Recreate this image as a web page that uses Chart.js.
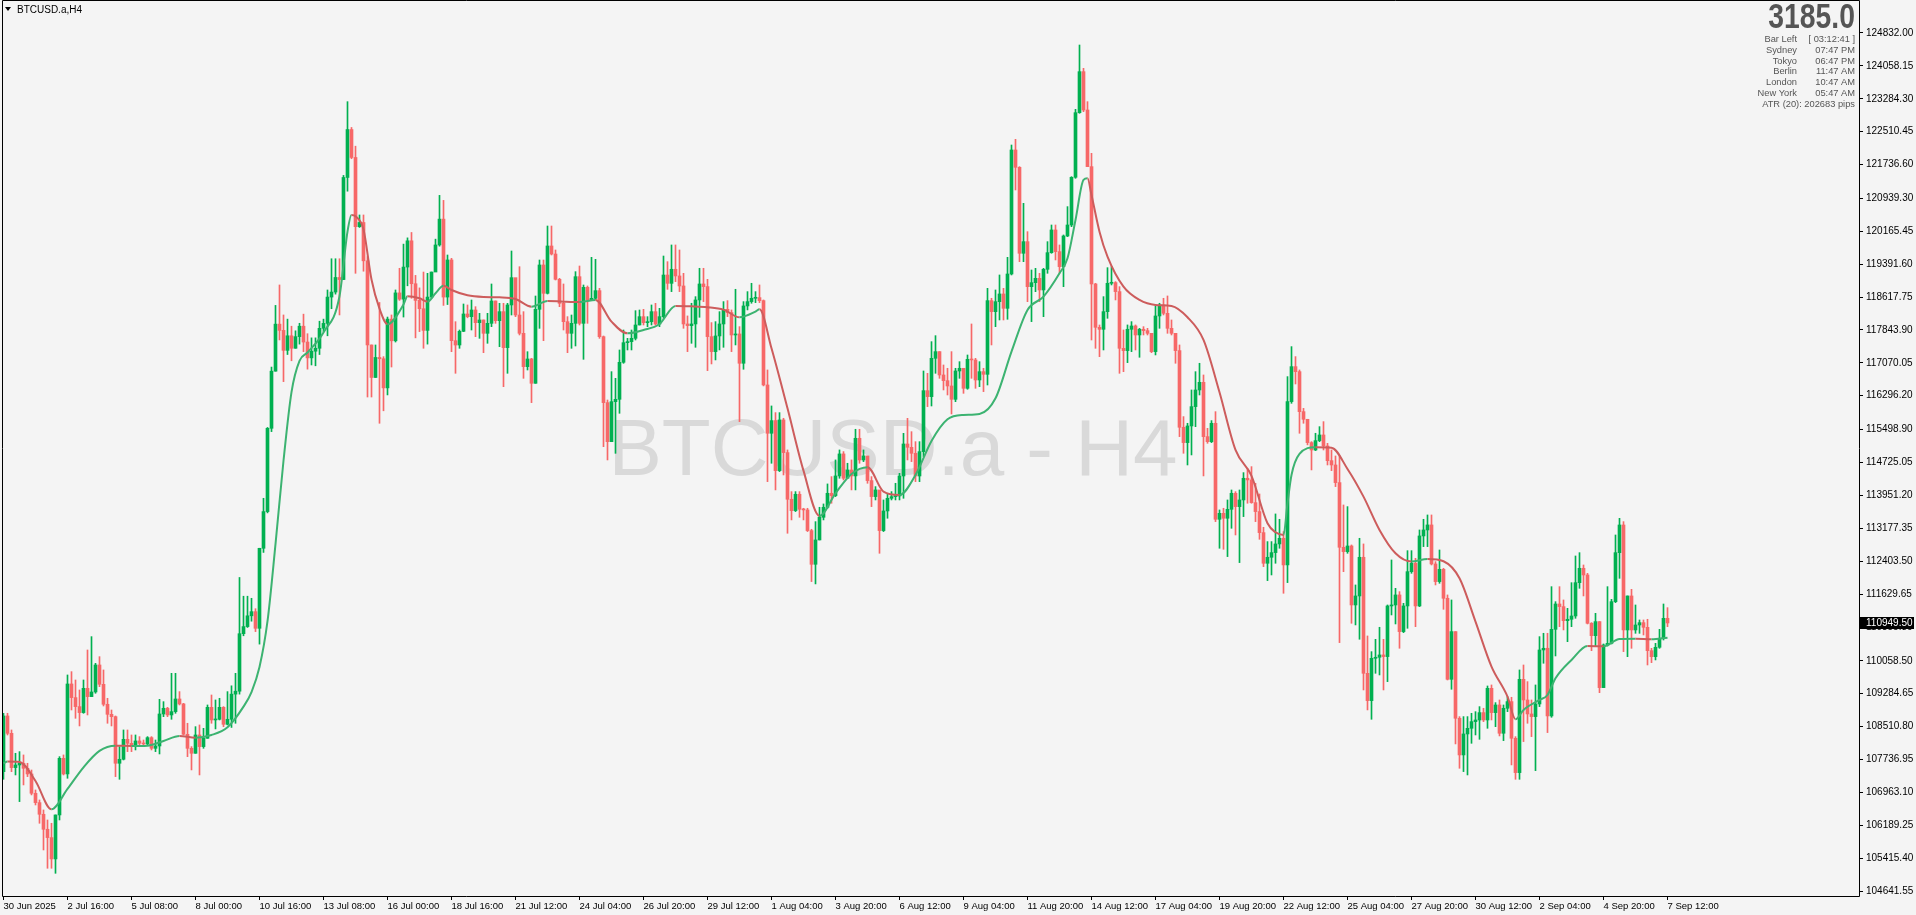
<!DOCTYPE html>
<html>
<head>
<meta charset="utf-8">
<script src="https://cdn.jsdelivr.net/npm/chart.js@4.4.1/dist/chart.umd.min.js"></script>
<style>
  html, body { margin: 0; padding: 0; background: #f3f3f3; overflow: hidden; }
  #wrap { position: relative; width: 1916px; height: 915px; }
</style>
</head>
<body>
<div id="wrap"><canvas id="priceChart"></canvas></div>
<script>
// BTCUSD.a H4 candles, 30 Jun 2025 -> 7 Sep 2025 (417 bars, open = previous close)
const firstOpen = 107450;

const closes = [
  108761,108353,107546,107608,107648,107530,107397,106942,106722,106448,106095,105899,105397,106432,107765,107397,
  109514,109193,108981,108840,109412,109216,109326,109961,109506,109036,108800,108745,107648,107742,108212,108118,
  108063,108173,108118,108102,108251,108000,108055,108808,108942,108785,108863,109161,109044,108330,108000,107883,
  108314,108040,108236,108965,108667,108683,108965,108565,108683,109275,109344,110697,110864,111118,111216,110824,
  112707,113570,115530,116874,117981,117834,117364,117707,117413,117687,117932,117560,117187,117344,117413,117883,
  117999,118618,118736,119079,119030,121432,122560,121903,120275,120373,119471,117491,116726,117197,117167,116481,
  118099,117589,118716,118569,119324,119942,118932,118540,118344,117834,118618,119207,119844,120452,118618,119491,
  117592,117490,117812,118220,118157,118314,118016,118079,117765,118000,118526,118063,118275,117428,118432,119075,
  118196,117765,116981,117161,116589,118330,119373,118706,119820,119631,119036,118471,118039,117765,118000,119098,
  118000,118847,118549,118588,118769,117686,116134,115216,116157,116212,117083,117545,117569,117647,117961,118157,
  118016,118039,118275,117984,118157,119137,118941,119272,119115,118879,117985,117946,117985,118550,118926,118864,
  117687,117334,117703,117985,118330,118252,117726,117750,117060,118409,118511,118589,118605,118534,116550,115413,
  115711,114534,115727,114958,113860,113593,113978,113625,113609,113123,112330,112903,113436,113672,114001,113946,
  114409,114927,114354,114550,114409,115295,114785,114880,114299,113923,114080,113123,113585,113883,113922,113938,
  114408,115161,115083,114942,114408,114981,116416,116275,117177,117334,116785,116651,116526,116212,116879,116942,
  116471,117153,117138,116667,116863,116800,118534,118275,118510,118691,118353,119161,122079,121671,119648,119922,
  118863,118957,119059,118785,119271,119663,120197,119687,119334,120055,120314,121436,122957,123922,123020,121687,
  118926,117906,117859,118275,118942,118958,118746,117412,117358,117860,117938,117726,117860,117828,117765,117334,
  118173,118432,118236,117883,117765,117358,115554,115193,115585,116040,116432,116612,115334,115216,115648,113389,
  113530,113413,113624,114001,113687,113844,114354,114315,113781,113570,113075,112354,112495,112605,112809,112942,
  112315,116158,116981,116863,115922,115742,115193,115020,115240,115373,115114,114769,114667,114252,112730,112628,
  112761,111373,111585,112495,109765,109122,110118,110142,110197,110158,111350,111373,111609,110746,111350,112157,
  112354,111350,112997,113138,113256,112338,111923,112212,111530,109624,110746,108707,107844,108338,108471,108628,
  108667,108840,108667,109412,108840,109020,108354,108942,109099,108236,107428,109624,109138,108809,108746,109044,
  110314,110354,108762,110800,111396,111334,111004,111036,111114,111898,112236,112079,110942,110651,110981,109428,
  110432,110471,111451,112604,113255,110785,111585,110785,110902,110957,110847,110298,110157,110377,110589,111059,
  110949.5
];

const highs = [
  108824,108824,108432,107883,107922,107844,107648,107490,107020,106785,106550,106314,106236,106432,107804,107844,
  109726,109804,109608,109373,109608,110314,110628,110000,110157,109844,109177,108902,108761,108040,108432,108432,
  108314,108314,108275,108196,108275,108275,108196,109153,109098,108965,109765,109765,109334,109059,108589,108040,
  108510,108550,108471,109020,109255,109138,109177,108981,109334,109471,109765,112020,111579,111579,111530,111285,
  112707,113883,115550,116971,118422,118903,118197,118099,117932,117824,118001,118216,117756,117658,117658,118050,
  118099,118785,119520,119520,119520,121481,123216,122609,122168,120550,120550,119569,117491,117491,118491,117216,
  118148,118197,118785,119295,119864,120011,120138,119128,118834,119207,119177,119207,119981,121011,120893,119608,
  119530,118039,117843,118455,118432,118549,118392,118236,118079,118236,118926,118526,118471,118471,118471,119702,
  119059,119333,118275,117333,117177,118643,119490,119490,120290,120290,119726,119059,118926,118157,118196,119216,
  119349,118902,118879,119553,119506,118824,117702,116196,116863,116706,117373,117843,117647,117843,118298,118314,
  118330,118157,118432,118471,118353,119584,119451,119844,119844,119726,119177,118174,118472,118628,119295,119295,
  119036,118017,118040,118275,118511,118534,118315,118801,117922,118511,118746,118942,118746,118903,118550,116903,
  116056,115899,115899,115766,115021,114040,114040,114040,113648,113648,113154,113334,113672,113750,114221,114393,
  114786,115021,114982,114707,114786,115507,115507,115021,114864,114393,114158,114001,113844,114001,114040,114236,
  114471,115412,115765,115451,115216,115216,116879,116824,117569,117710,117334,117020,116942,117334,116942,117098,
  116824,117255,117985,117177,117098,116942,118824,118589,118785,119138,118824,119553,122196,122330,121687,120824,
  120157,119255,119294,119177,119294,119922,120314,120314,119844,120079,120746,121451,123036,124549,124000,123216,
  122000,118942,117961,118628,119310,119334,118981,118863,117844,117962,118040,117962,117883,117922,117883,117765,
  118409,118472,118589,118644,118079,117726,117491,115805,115648,116432,116863,117060,116785,115530,115711,115922,
  113609,113648,113844,114079,114040,114079,114487,114589,114628,114236,113985,113201,112864,112864,113515,113389,
  113099,116746,117452,117217,116903,115999,115742,115216,115413,115569,115687,115177,115020,114879,114879,113726,
  113687,112785,111844,112942,112809,110644,110275,110565,110848,110565,111373,112432,111765,111687,111412,112651,
  112651,112471,113138,113389,113491,113491,112393,112667,112236,111609,111491,110746,108746,108746,108746,108824,
  108863,108981,108942,109467,109491,109075,109138,109020,109216,109201,108275,109844,109961,109569,109138,109491,
  110628,110707,110707,111804,111451,111804,111491,111294,111898,112526,112604,112314,112118,110957,111177,110981,
  110455,111804,111506,113020,113412,113334,111585,111741,111373,111020,111020,111036,110353,110471,110800,111396,
  111310
];

const lows = [
  107271,108314,107451,107373,106746,107138,107334,106903,106667,106236,105608,105177,105177,105059,106314,107373,
  107295,108902,108706,108526,108824,108785,109216,109295,109451,108996,108589,108526,107334,107271,107726,107922,
  107922,107961,108040,108055,108079,107961,107922,107867,108745,108745,108683,108824,109020,108314,107804,107491,
  107883,107373,108000,108236,108589,108456,108667,108510,108550,108491,108589,109275,110648,110844,110991,110746,
  110452,112609,113540,115452,116874,117609,116628,117266,117119,117413,117511,117334,116922,117020,117001,117266,
  117805,117707,118344,118687,118197,119030,121109,121873,119177,120256,119226,116266,116266,116726,115648,115942,
  116315,116972,117560,118540,118148,118883,118589,117658,117805,117413,117511,118589,119452,119815,118422,118442,
  117333,116824,117412,117804,118130,117843,117686,117647,117310,117530,117922,118000,117451,116510,116824,118196,
  118157,117726,116706,116902,116134,116589,117882,117592,118690,119608,119020,118392,117843,117310,117412,117467,
  117961,117153,118000,118549,118565,117647,115098,114785,115216,114941,115883,117059,117373,117373,117608,117961,
  117961,117922,117961,117961,117922,118118,118800,118746,118981,118746,117883,117334,117530,117436,118142,118511,
  116887,117044,117138,117374,117436,118158,117334,117491,115687,116919,118315,118472,118487,118487,116527,114275,
  114707,114080,114511,114432,113060,113374,113570,113436,113374,113100,111923,111868,112903,113374,113648,113766,
  113923,114354,114315,114393,114080,114080,114707,114746,114236,113687,113844,112589,113100,113413,113844,113844,
  113844,113883,114785,114746,114275,114275,114863,116040,116055,116824,116706,116432,116314,115867,116157,116706,
  116353,116448,116706,116471,116510,116393,116549,117491,117922,118079,118079,118095,119138,121138,119451,119451,
  118510,118040,118745,118510,118157,119177,119648,119491,119177,118863,120040,120275,121412,122942,122981,121687,
  117608,117412,117216,117373,118118,118903,118550,116824,116863,117075,117334,117373,117201,117726,117726,117310,
  117256,117883,118197,117765,117726,117060,115334,114942,114667,114903,115569,116314,114409,115177,115193,113334,
  112707,112683,112511,113177,113020,112370,113452,113766,113766,113334,112918,112275,111946,112079,112354,112707,
  111648,111899,116118,116573,115413,115648,115140,114550,115005,115216,115020,114667,114534,114158,110487,112157,
  112589,110942,110903,110566,109373,108903,108683,109765,109726,109373,109569,111138,110926,110354,110722,110824,
  112118,110863,111334,112746,112746,112314,111844,111883,111271,109608,109389,108103,107530,107452,107373,108118,
  108314,108212,108628,108471,108667,108510,108291,108181,108863,107609,107271,107271,108158,108589,108275,107475,
  108981,110001,108370,108730,110173,110863,110785,110510,110863,111059,111765,111585,110926,110298,110393,109310,
  109428,110408,110455,111428,112000,110275,110157,110353,110706,110706,110667,109961,110016,110079,110353,110549,
  110863
];

// moving average line, read at these bar indexes
const maIndex = [
  0,1,4,8,12,16,20,24,28,32,36,40,44,48,52,56,60,62,64,66,68,70,72,74,76,80,84,86,87,88,90,92,94,96,
  100,101,104,106,108,110,112,116,120,124,128,132,136,140,144,148,152,156,160,164,168,172,176,180,184,188,189,
  192,196,200,204,208,212,216,220,224,228,232,236,240,244,248,252,256,260,264,266,268,270,271,272,274,276,
  280,284,288,292,296,300,304,308,312,316,318,320,321,322,324,328,332,336,340,344,348,352,356,360,364,368,
  372,376,378,380,384,386,388,392,396,400,404,408,412,416
];
const maValues = [
  107648,107690,107680,107232,106565,107044,107553,107938,108060,108055,108063,108173,108291,108251,108314,108495,
  108981,109324,109912,110991,112805,114766,116383,117118,117314,117785,118638,120158,120550,120520,120207,119030,
  118344,117981,118442,118638,118589,118511,118707,118883,118785,118659,118620,118612,118573,118392,118526,118510,
  118500,118549,118039,117765,117843,117984,118409,118400,118380,118323,118142,118275,118330,117413,116001,114534,
  113468,114001,114456,114613,114040,113961,114432,115232,115742,115844,115867,116236,117334,118314,118628,119177,
  119530,120432,121373,121412,121020,120157,119569,118863,118550,118432,118408,118142,117609,116377,115020,114409,
  113295,113083,113020,113765,114432,114926,115083,115075,114573,113922,113138,112589,112393,112456,112401,112001,
  110981,109922,109216,108683,108903,109138,109255,109647,110079,110408,110400,110573,110581,110565,110604
];

// time axis: one label every 16 bars
const barsPerLabel = 16;
const timeLabels = [
  '30 Jun 2025','2 Jul 16:00','5 Jul 08:00','8 Jul 00:00','10 Jul 16:00','13 Jul 08:00','16 Jul 00:00',
  '18 Jul 16:00','21 Jul 12:00','24 Jul 04:00','26 Jul 20:00','29 Jul 12:00','1 Aug 04:00','3 Aug 20:00',
  '6 Aug 12:00','9 Aug 04:00','11 Aug 20:00','14 Aug 12:00','17 Aug 04:00','19 Aug 20:00','22 Aug 12:00',
  '25 Aug 04:00','27 Aug 20:00','30 Aug 12:00','2 Sep 04:00','4 Sep 20:00','7 Sep 12:00'
];

const priceTicks = [
  124832.00,124058.15,123284.30,122510.45,121736.60,120939.30,120165.45,119391.60,118617.75,
  117843.90,117070.05,116296.20,115498.90,114725.05,113951.20,113177.35,112403.50,111629.65,
  110855.80,110058.50,109284.65,108510.80,107736.95,106963.10,106189.25,105415.40,104641.55
];

const lastPrice = 110949.50;
const symbolTitle = 'BTCUSD.a,H4';
const watermarkText = 'BTCUSD.a - H4';
const spreadText = '3185.0';
const infoRows = [
  ['Bar Left', '[ 03:12:41 ]'],
  ['Sydney', '07:47 PM'],
  ['Tokyo', '06:47 PM'],
  ['Berlin', '11:47 AM'],
  ['London', '10:47 AM'],
  ['New York', '05:47 AM']
];
const atrText = 'ATR (20): 202683 pips';

const BG = '#f4f4f4';
const UP = '#00b050';
const DOWN = '#f76868';
const MA_UP = '#3cb371';
const MA_DOWN = '#cd5c5c';
const FONT = '"Liberation Sans", Arial, sans-serif';

const opens = closes.map((c, i) => (i === 0 ? firstOpen : closes[i - 1]));
const candleColors = closes.map((c, i) => (c >= opens[i] ? UP : DOWN));

// background, watermark, frame and the terminal overlays
const terminalDecor = {
  id: 'terminalDecor',
  beforeDraw(chart) {
    const ctx = chart.ctx;
    ctx.save();
    ctx.fillStyle = BG;
    ctx.fillRect(0, 0, chart.width, chart.height);
    ctx.restore();
  },
  beforeDatasetsDraw(chart) {
    const ctx = chart.ctx;
    ctx.save();
    ctx.font = '80px ' + FONT;
    ctx.fillStyle = '#d9d9d9';
    ctx.textAlign = 'center';
    ctx.textBaseline = 'alphabetic';
    ctx.fillText(watermarkText, 893, 475);
    ctx.restore();
  },
  afterDraw(chart) {
    const ctx = chart.ctx;
    const area = chart.chartArea;
    ctx.save();

    // frame
    ctx.strokeStyle = '#000';
    ctx.lineWidth = 1;
    ctx.beginPath();
    ctx.moveTo(area.left + 0.5, area.top + 0.5);
    ctx.lineTo(area.right + 0.5, area.top + 0.5);
    ctx.lineTo(area.right + 0.5, area.bottom + 0.5);
    ctx.lineTo(area.left + 0.5, area.bottom + 0.5);
    ctx.closePath();
    ctx.stroke();

    // last price box on the price scale
    const py = Math.round(chart.scales.y.getPixelForValue(lastPrice));
    ctx.fillStyle = '#000';
    ctx.fillRect(area.right + 1, py - 6, 54, 12);
    ctx.fillStyle = '#fff';
    ctx.font = '10px ' + FONT;
    ctx.textAlign = 'left';
    ctx.textBaseline = 'middle';
    ctx.fillText(lastPrice.toFixed(2), area.right + 7, py + 0.5);

    // symbol caption, top left
    ctx.fillStyle = '#000';
    ctx.beginPath();
    ctx.moveTo(5, 7);
    ctx.lineTo(11, 7);
    ctx.lineTo(8, 11);
    ctx.closePath();
    ctx.fill();
    ctx.font = '10px ' + FONT;
    ctx.textBaseline = 'alphabetic';
    ctx.fillText(symbolTitle, 17, 13);

    // info panel, top right
    ctx.fillStyle = '#555';
    ctx.textAlign = 'right';
    ctx.save();
    ctx.translate(1855, 28);
    ctx.scale(0.81, 1);
    ctx.font = 'bold 35px ' + FONT;
    ctx.fillText(spreadText, 0, 0);
    ctx.restore();

    ctx.font = '9.3px ' + FONT;
    infoRows.forEach((row, k) => {
      const y = 42 + k * 10.8;
      ctx.fillText(row[0], 1797, y);
      ctx.fillText(row[1], 1855, y);
    });
    ctx.fillText(atrText, 1855, 42 + infoRows.length * 10.8);

    ctx.restore();
  }
};

Chart.defaults.font.family = FONT;

const ctx = document.getElementById('priceChart').getContext('2d');
new Chart(ctx, {
  type: 'bar',
  data: {
    datasets: [
      {
        type: 'line',
        label: 'MA',
        data: maIndex.map((x, k) => ({ x, y: maValues[k] })),
        borderColor: MA_UP,
        borderWidth: 2,
        pointRadius: 0,
        cubicInterpolationMode: 'monotone',
        segment: {
          borderColor: s => (s.p1.parsed.y < s.p0.parsed.y ? MA_DOWN : MA_UP)
        },
        order: 0
      },
      {
        label: 'body',
        data: closes.map((c, i) => ({ x: i, y: [opens[i], c] })),
        backgroundColor: candleColors,
        borderWidth: 0,
        barThickness: 3,
        minBarLength: 1,
        grouped: false,
        order: 1
      },
      {
        label: 'wick',
        data: closes.map((c, i) => ({ x: i, y: [lows[i], highs[i]] })),
        backgroundColor: candleColors,
        borderWidth: 0,
        barThickness: 1,
        grouped: false,
        order: 2
      }
    ]
  },
  options: {
    responsive: true,
    maintainAspectRatio: false,
    devicePixelRatio: 1,
    animation: false,
    events: [],
    layout: { padding: { left: 2, top: 0, right: 0, bottom: 0 } },
    plugins: {
      legend: { display: false },
      tooltip: { enabled: false }
    },
    scales: {
      x: {
        type: 'linear',
        min: -0.375,
        max: 463.875,
        offset: false,
        grid: { display: true, drawOnChartArea: false, drawTicks: true, tickLength: 4, color: '#000', offset: false },
        border: { display: false },
        ticks: {
          autoSkip: false,
          maxRotation: 0,
          minRotation: 0,
          align: 'start',
          padding: 1,
          color: '#000',
          font: { size: 9.5 },
          callback: v => timeLabels[Math.round(v / barsPerLabel)] ?? ''
        },
        afterBuildTicks: s => { s.ticks = timeLabels.map((_, k) => ({ value: k * barsPerLabel })); },
        afterFit: s => { s.height = 19; s.paddingLeft = 0; s.paddingRight = 0; }
      },
      y: {
        type: 'linear',
        position: 'right',
        min: 104525,
        max: 125608,
        grid: { drawOnChartArea: false, drawTicks: true, tickLength: 4, color: '#000' },
        border: { display: false },
        ticks: {
          padding: 3,
          color: '#000',
          font: { size: 10 },
          callback: v => v.toFixed(2)
        },
        afterBuildTicks: s => { s.ticks = priceTicks.map(v => ({ value: v })); },
        afterFit: s => { s.width = 57; s.paddingTop = 0; s.paddingBottom = 0; }
      }
    }
  },
  plugins: [terminalDecor]
});
</script>
</body>
</html>
